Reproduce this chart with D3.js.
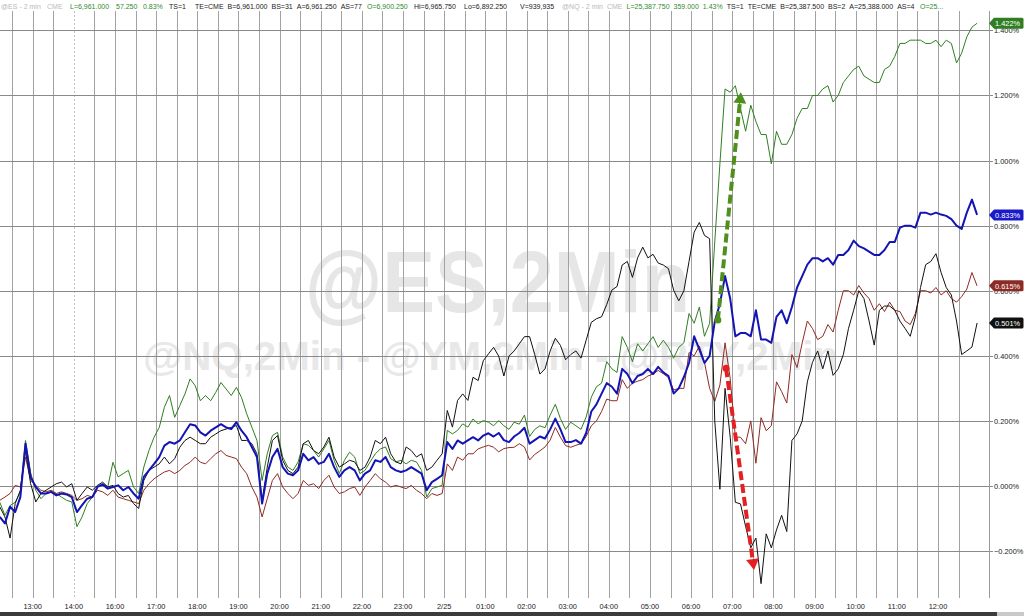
<!DOCTYPE html>
<html><head><meta charset="utf-8">
<script src="https://cdn.jsdelivr.net/npm/d3@7"></script>
<style>body{margin:0;background:#fff}svg{display:block;font-family:"Liberation Sans",Arial,sans-serif}</style>
</head><body><svg id="c" width="1024" height="616"></svg>
<script>
// ---------- data ----------
const hourLabels = ["13:00","14:00","16:00","17:00","18:00","19:00","20:00","21:00","22:00","23:00","2/25","01:00","02:00","03:00","04:00","05:00","06:00","07:00","08:00","09:00","10:00","11:00","12:00"];
const yTicks = [-0.2,0,0.2,0.4,0.6,0.8,1.0,1.2,1.4];
const sampleStartHour = -0.8;   // first 2-min sample (in hour-label units)
const sampleStepHour = 0.125;   // spacing between samples
const nqValues = [ // green @NQ
-0.05,-0.09,-0.06,-0.05,-0.02,0.14,0.04,-0.013,-0.039,-0.023,-0.018,-0.023,-0.034,-0.044,-0.049,-0.125,-0.095,-0.054,-0.034,-0.003,0.007,-0.003,0.073,0.028,0.038,0.048,-0.003,-0.023,0.058,0.109,0.15,0.18,0.242,0.278,0.211,0.247,0.283,0.329,0.308,0.262,0.278,0.262,0.288,0.318,0.298,0.278,0.303,0.272,
0.222,0.181,0.14,0.017,0.099,0.155,0.165,0.089,0.058,0.048,0.074,0.13,0.125,0.109,0.089,0.114,0.14,0.079,0.038,0.079,0.104,0.089,0.038,0.048,0.074,0.099,0.114,0.12,0.084,0.074,0.079,0.068,0.079,0.074,0.048,-0.034,-0.008,-0.003,0.002,0.171,0.16,0.171,0.191,0.181,0.206,0.191,0.201,0.196,
0.185,0.201,0.185,0.174,0.196,0.19,0.218,0.152,0.174,0.185,0.179,0.218,0.251,0.207,0.174,0.196,0.185,0.174,0.212,0.273,0.305,0.316,0.382,0.36,0.349,0.459,0.426,0.382,0.437,0.415,0.437,0.459,0.426,0.448,0.426,0.393,0.426,0.44,0.53,0.5,0.55,0.46,0.5,0.75,0.99,1.22,1.21,
1.23,1.16,1.09,1.17,1.12,1.08,1.08,0.99,1.09,1.05,1.05,1.08,1.13,1.16,1.16,1.2,1.2,1.22,1.23,1.18,1.2,1.24,1.26,1.28,1.29,1.26,1.25,1.24,1.24,1.28,1.29,1.32,1.36,1.36,1.37,1.37,1.37,1.36,1.36,1.37,1.35,1.37,1.36,1.30,1.33,1.38,1.41,1.422];
const esValues = [ // blue @ES
-0.095,-0.115,-0.064,-0.08,-0.034,0.13,0.028,-0.003,-0.023,-0.023,-0.018,-0.029,-0.023,-0.026,-0.034,-0.08,-0.059,-0.039,-0.034,-0.003,0.005,-0.008,-0.003,0.002,-0.013,-0.003,-0.023,-0.039,0.028,0.048,0.068,0.089,0.124,0.135,0.13,0.14,0.165,0.19,0.186,0.165,0.155,0.17,0.18,0.19,0.18,0.175,0.196,0.17,
0.15,0.12,0.089,-0.054,0.038,0.089,0.114,0.058,0.038,0.033,0.048,0.099,0.079,0.089,0.068,0.074,0.099,0.058,0.028,0.048,0.058,0.048,0.017,0.038,0.048,0.079,0.074,0.089,0.058,0.048,0.043,0.048,0.058,0.048,0.038,-0.013,0.012,0.022,0.033,0.135,0.114,0.14,0.13,0.14,0.15,0.14,0.155,0.162,
0.152,0.163,0.141,0.135,0.152,0.163,0.179,0.13,0.141,0.152,0.146,0.174,0.207,0.174,0.135,0.135,0.141,0.13,0.163,0.229,0.251,0.284,0.316,0.305,0.284,0.36,0.344,0.316,0.338,0.344,0.36,0.344,0.366,0.349,0.338,0.284,0.3,0.335,0.378,0.46,0.42,0.378,0.4,0.505,0.56,0.645,0.576,
0.46,0.47,0.47,0.46,0.54,0.45,0.45,0.44,0.52,0.54,0.5,0.55,0.61,0.645,0.68,0.7,0.7,0.69,0.7,0.68,0.71,0.71,0.725,0.754,0.737,0.73,0.72,0.71,0.71,0.725,0.75,0.75,0.794,0.8,0.8,0.794,0.84,0.84,0.834,0.84,0.834,0.83,0.82,0.8,0.79,0.84,0.88,0.833];
const ymValues = [ // dark red @YM
-0.044,-0.034,-0.023,0.002,-0.003,0.089,0.017,0.002,-0.013,-0.018,-0.013,-0.023,-0.018,-0.023,-0.029,-0.044,-0.039,-0.029,-0.034,-0.013,-0.018,-0.029,-0.013,-0.034,-0.039,-0.044,-0.049,-0.054,-0.013,0.007,0.022,0.033,0.043,0.048,0.038,0.048,0.063,0.073,0.089,0.073,0.068,0.084,0.099,0.109,0.094,0.089,0.084,0.058,
0.038,-0.003,-0.034,-0.095,-0.039,0.017,0.038,-0.003,-0.023,-0.039,-0.023,0.017,0.002,0.007,-0.008,0.017,0.033,-0.003,-0.023,-0.018,-0.008,-0.003,-0.029,-0.003,0.017,0.038,0.022,0.012,-0.003,0.002,-0.003,-0.008,0.002,-0.013,-0.023,-0.039,-0.023,-0.029,-0.023,0.068,0.048,0.089,0.079,0.099,0.099,0.114,0.12,0.125,
0.119,0.105,0.115,0.118,0.119,0.13,0.12,0.08,0.097,0.108,0.12,0.141,0.18,0.15,0.124,0.119,0.125,0.13,0.152,0.185,0.2,0.229,0.267,0.262,0.262,0.327,0.3,0.316,0.322,0.327,0.338,0.344,0.355,0.345,0.333,0.295,0.3,0.3,0.41,0.4,0.43,0.38,0.3,0.26,0.31,0.44,0.33,
0.15,0.15,0.13,0.2,0.07,0.21,0.17,0.185,0.32,0.29,0.255,0.404,0.364,0.44,0.507,0.484,0.45,0.46,0.496,0.473,0.54,0.6,0.6,0.587,0.616,0.593,0.576,0.54,0.56,0.536,0.565,0.54,0.536,0.507,0.496,0.53,0.6,0.6,0.593,0.61,0.587,0.6,0.576,0.565,0.582,0.605,0.656,0.615];
const rtyValues = [ // black @RTY
-0.064,-0.095,-0.16,-0.054,-0.013,0.109,0.007,-0.049,-0.023,-0.013,-0.003,0.007,0.012,-0.003,0.007,-0.044,-0.023,-0.003,-0.013,0.002,0.012,-0.003,0.002,-0.023,-0.034,-0.029,-0.054,-0.069,0.017,0.048,0.058,0.068,0.089,0.068,0.084,0.119,0.14,0.15,0.14,0.13,0.13,0.15,0.16,0.17,0.175,0.18,0.186,0.14,
0.14,0.13,0.099,-0.044,0.058,0.14,0.155,0.079,0.048,0.038,0.058,0.13,0.14,0.109,0.099,0.12,0.15,0.089,0.058,0.068,0.079,0.074,0.048,0.058,0.089,0.14,0.13,0.15,0.099,0.074,0.068,0.12,0.109,0.089,0.099,0.048,0.058,0.079,0.099,0.232,0.181,0.263,0.283,0.263,0.334,0.324,0.385,0.406,
0.426,0.399,0.338,0.399,0.415,0.437,0.459,0.459,0.404,0.344,0.36,0.415,0.454,0.432,0.388,0.404,0.415,0.393,0.448,0.503,0.514,0.52,0.558,0.602,0.613,0.679,0.69,0.641,0.701,0.734,0.701,0.712,0.685,0.679,0.668,0.602,0.569,0.6,0.69,0.78,0.81,0.77,0.76,0.2,-0.01,0.3,0.15,
-0.05,-0.055,-0.124,-0.19,-0.16,-0.3,-0.147,-0.19,-0.135,-0.09,-0.14,0.14,0.16,0.2,0.32,0.38,0.415,0.36,0.415,0.34,0.36,0.404,0.484,0.54,0.6,0.576,0.507,0.433,0.54,0.553,0.553,0.54,0.507,0.484,0.46,0.52,0.61,0.68,0.69,0.714,0.656,0.61,0.587,0.507,0.404,0.415,0.427,0.501];
const seriesNames = ["@NQ","@YM","@RTY","@ES"];
const seriesColors = ["#2f7f22","#8e2a24","#111111","#1414b4"];
const seriesWidths = [1,1,1,2];
const tagColors = ["#2f7f22","#8e2a24","#111111","#1a1ac8"];
// annotation arrows: [startHour, startValue, endHour, endValue]
const arrowGreen = [16.65, 0.51, 17.21, 1.21];
const arrowRed = [16.85, 0.362, 17.53, -0.258];
const headerTokens = [
 ["@ES - 2 min",1,"g"],["CME",47,"g"],["L=6,961.000",70,"G"],["57.250",116,"G"],["0.83%",143,"G"],["TS=1",169,"k"],["TE=CME",195,"k"],["B=6,961.000",225,"k"],["BS=31",268,"k"],["A=6,961.250",294,"k"],["AS=77",340,"k"],["O=6,900.250",367,"G"],["Hi=6,965.750",414,"k"],["Lo=6,892.250",464,"k"],["V=939,935",520,"k"],
 ["@NQ - 2 min",562,"g"],["CME",600,"g"],["L=25,387.750",620,"G"],["359.000",668,"G"],["1.43%",697,"G"],["TS=1",722,"k"],["TE=CME",744,"k"],["B=25,387.500",773,"k"],["BS=2",823,"k"],["A=25,388.000",845,"k"],["AS=4",896,"k"],["O=25...",920,"G"]];

// ---------- drawing ----------
const svg = d3.select("#c");
const x = d3.scaleLinear().domain([0,22]).range([32.7, 32.7+22*41.15]);
const y = d3.scaleLinear().domain([0,1.4]).range([486, 30.4]);
const plotRight = 989, plotTop = 11, plotBottom = 598;

// watermarks
svg.append("text").attr("x",305).attr("y",312).attr("font-size",88).attr("font-weight","bold")
  .attr("fill","#e6e6e6").attr("textLength",385).attr("lengthAdjust","spacingAndGlyphs").text("@ES,2Min");
svg.append("text").attr("x",143).attr("y",370).attr("font-size",40).attr("font-weight","bold")
  .attr("fill","#e8e8e8").attr("textLength",695).attr("lengthAdjust","spacingAndGlyphs")
  .text("@NQ,2Min - @YM,2Min - @RTY,2Min");

// vertical grid (every half hour)
const vLines = d3.range(-0.5, 22.51, 0.5);
svg.append("g").selectAll("line").data(vLines).join("line")
  .attr("x1",d=>Math.round(x(d))+0.5).attr("x2",d=>Math.round(x(d))+0.5)
  .attr("y1",plotTop).attr("y2",plotBottom)
  .attr("stroke",d=>d===1?"#c0c0c0":"#a2a2a2").attr("stroke-width",1)
  .attr("stroke-dasharray",d=>d===1?"2,2":null);

// horizontal grid
svg.append("g").selectAll("line").data(yTicks).join("line")
  .attr("x1",0).attr("x2",plotRight+4)
  .attr("y1",d=>Math.round(y(d))+0.5).attr("y2",d=>Math.round(y(d))+0.5)
  .attr("stroke","#8a8a8a").attr("stroke-width",1);

// right border
svg.append("line").attr("x1",plotRight+0.5).attr("x2",plotRight+0.5).attr("y1",plotTop).attr("y2",plotBottom)
  .attr("stroke","#9a9a9a");

// right axis labels
svg.append("g").selectAll("text").data(yTicks).join("text")
  .attr("x",994).attr("y",d=>y(d)+3).attr("font-size",7.4).attr("fill","#222")
  .text(d=>d3.format(".3f")(d)+"%");

// bottom axis labels
svg.append("g").selectAll("text").data(hourLabels).join("text")
  .attr("x",(d,i)=>x(i)).attr("y",609).attr("text-anchor","middle").attr("font-size",7.4).attr("fill","#222")
  .text(d=>d);
svg.append("rect").attr("x",0).attr("y",612).attr("width",1024).attr("height",4).attr("fill","#3b3b3b");
svg.append("rect").attr("x",997).attr("y",612).attr("width",27).attr("height",4).attr("fill","#c9c9c9");

// series lines
const allSeries = [nqValues, ymValues, rtyValues, esValues];
const line = d3.line().x((d,i)=>x(sampleStartHour + i*sampleStepHour)).y(d=>y(d));
svg.append("g").selectAll("path").data(allSeries).join("path")
  .attr("d",line).attr("fill","none")
  .attr("stroke",(d,i)=>seriesColors[i]).attr("stroke-width",(d,i)=>seriesWidths[i])
  .attr("stroke-linejoin","round");

// arrows
function arrow(a, color){
  const x1=x(a[0]), y1=y(a[1]), x2=x(a[2]), y2=y(a[3]);
  const ang=Math.atan2(y2-y1,x2-x1), L=11, W=6.5;
  const bx=x2-L*Math.cos(ang), by=y2-L*Math.sin(ang);
  svg.append("line").attr("x1",x1).attr("y1",y1).attr("x2",bx).attr("y2",by)
    .attr("stroke",color).attr("stroke-width",4).attr("stroke-dasharray","9,4");
  svg.append("circle").attr("cx",x1).attr("cy",y1).attr("r",3.5).attr("fill",color);
  const px=-Math.sin(ang), py=Math.cos(ang);
  svg.append("path").attr("d",`M${x2},${y2}L${bx+W*px},${by+W*py}L${bx-W*px},${by-W*py}Z`).attr("fill",color);
}
arrow(arrowGreen,"#4f8f1c");
arrow(arrowRed,"#e42020");

// last value tags
const lastVals = allSeries.map(s=>s[s.length-1]);
const tags = svg.append("g").selectAll("g").data(lastVals).join("g")
  .attr("transform",d=>`translate(0,${y(d)})`);
tags.append("path").attr("d","M989,0L994,-5.5L1022,-5.5Q1023.5,-5.5 1023.5,-4L1023.5,4Q1023.5,5.5 1022,5.5L994,5.5Z")
  .attr("fill",(d,i)=>tagColors[i]);
tags.append("text").attr("x",995).attr("y",3).attr("font-size",7.4).attr("fill","#fff").text(d=>d3.format(".3f")(d)+"%");

// header: tokens placed at their reference x, pushed right if they would collide
const hcol = {g:"#b9b9b9", G:"#2f8a2f", k:"#1a1a1a"};
const hdr = svg.append("g");
let prevEnd = -10;
headerTokens.forEach(t=>{
  const tx = Math.max(t[1], prevEnd + 4);
  const el = hdr.append("text").attr("x",tx).attr("y",8.5).attr("font-size",7).attr("fill",hcol[t[2]]).text(t[0]);
  prevEnd = tx + el.node().getComputedTextLength();
});
</script></body></html>
